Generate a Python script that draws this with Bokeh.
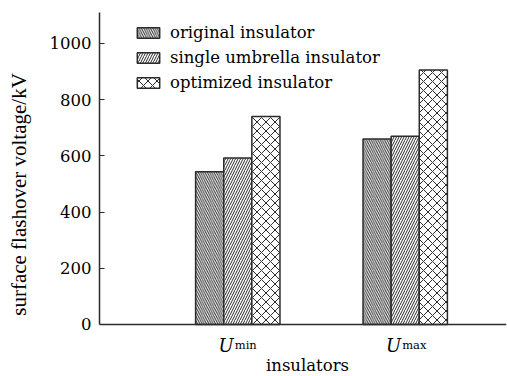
from bokeh.plotting import figure
from bokeh.models import Range1d, FixedTicker, Label, Legend, LegendItem, Span
from bokeh.embed import file_html
from bokeh.resources import INLINE

# ---- data ----
categories = ["min", "max"]           # subscripts of U
group_pos = [1, 2]
original = [543, 660]
single = [592, 670]
optimized = [740, 905]
series_names = ["original insulator", "single umbrella insulator", "optimized insulator"]
y_ticks = [0, 200, 400, 600, 800, 1000]

FONT_A = "'Liberation Serif', 'Times New Roman', serif"
FONT_D = "DejaVu Serif"
DARK = "#2b2b2b"

PXU = 0.281   # px per data unit (vertical)
p = figure(width=507, height=376, output_backend="svg", toolbar_location=None,
           x_range=Range1d(0.174, 2.605), y_range=Range1d(-52 / PXU, 1110),
           min_border_left=99, min_border_right=1, min_border_top=12, min_border_bottom=0)
p.outline_line_color = None
p.xgrid.visible = False
p.ygrid.visible = False
p.background_fill_color = "white"

bw = 0.168
offsets = [-bw, 0, bw]
hatches = ["left_diagonal_line", "right_diagonal_line", "diagonal_cross"]
scales = [4.5, 5, 9]
vals = [original, single, optimized]
rends = []
for off, h, sc, v in zip(offsets, hatches, scales, vals):
    r = p.vbar(x=[g + off for g in group_pos], top=v, width=bw, bottom=0,
               fill_color="white", line_color=DARK, line_width=1.5,
               hatch_pattern=h, hatch_scale=sc, hatch_weight=1.0, hatch_color=DARK)
    rends.append(r)

legend = Legend(items=[LegendItem(label=n, renderers=[r]) for n, r in zip(series_names, rends)],
                location=(35, 284), padding=0, spacing=5, margin=0,
                glyph_width=28, glyph_height=13, label_standoff=8, label_height=20,
                label_text_font=FONT_D, label_text_font_size="16.5px",
                label_text_color="black",
                border_line_color=None, background_fill_alpha=0)
p.add_layout(legend, "center")

# x axis line at zero
p.xaxis.visible = False
p.add_layout(Span(location=0, dimension="width", line_color=DARK, line_width=1.5))

# y axis
ya = p.yaxis[0]
ya.bounds = (0, 1110)
ya.ticker = FixedTicker(ticks=y_ticks)
ya.axis_label = "surface flashover voltage/kV"
ya.axis_label_text_font = FONT_A
ya.axis_label_text_font_size = "21px"
ya.axis_label_text_font_style = "normal"
ya.axis_label_text_color = "black"
ya.axis_label_standoff = 16
ya.major_label_text_font = FONT_D
ya.major_label_text_font_size = "16.5px"
ya.major_label_text_color = "black"
ya.major_label_standoff = 8
ya.major_tick_in = 5
ya.major_tick_out = 0
ya.minor_tick_line_color = None
ya.axis_line_color = DARK
ya.axis_line_width = 1.5
ya.major_tick_line_color = DARK
ya.major_tick_line_width = 1.2

for g, sub in zip(group_pos, categories):
    p.add_layout(Label(x=g, y=-21 / PXU, x_offset=-4, text="U", text_align="right",
                       text_baseline="alphabetic", text_font=FONT_D, text_font_size="18px",
                       text_font_style="italic", text_color="black"))
    p.add_layout(Label(x=g, y=-21 / PXU, x_offset=-3, text=sub, text_align="left",
                       text_baseline="alphabetic", text_font=FONT_D, text_font_size="11.5px",
                       text_color="black"))

p.add_layout(Label(x=(group_pos[0] + group_pos[1]) / 2, x_offset=-14, y=-41 / PXU,
                   text="insulators", text_align="center", text_baseline="alphabetic",
                   text_font=FONT_D, text_font_size="16.5px", text_color="black"))

open("out.html", "w").write(file_html(p, INLINE))
